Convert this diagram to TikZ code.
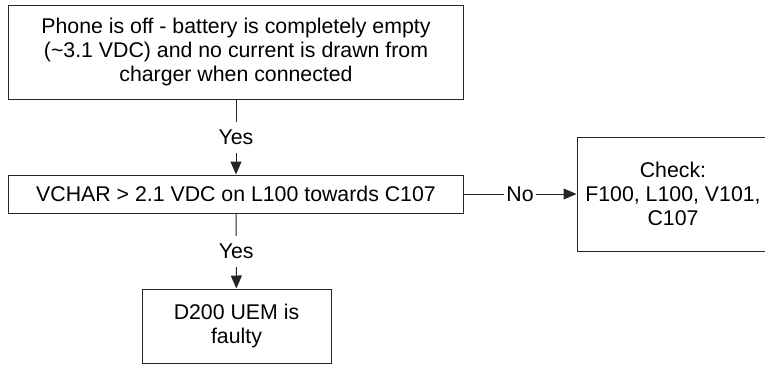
\documentclass[tikz,border=0pt]{standalone}
\usepackage{fontspec}
\setmainfont{Liberation Sans}
\usetikzlibrary{arrows.meta}

\begin{document}
\begin{tikzpicture}[x=1bp,y=-1bp,
    box/.style={draw=black!85,line width=1bp,inner sep=0pt,align=center},
    lbl/.style={fill=white,inner xsep=2.5bp,inner ysep=7.5bp,text height=15bp,text depth=1bp},
    arr/.style={draw=black!85,line width=1bp,-{Triangle[length=13bp,width=11bp]}}]
      \fontsize{21.3bp}{24bp}\selectfont
      \useasboundingbox (0,0) rectangle (765,364);
      \clip (0,0) rectangle (765,364);
      % Boxes
      \node[box,minimum width=454bp,minimum height=94bp] (empty) at (236,52)
        {Phone is off - battery is completely empty\\(\textasciitilde3.1 VDC) and no current is drawn from\\charger when connected};
      \node[box,minimum width=454bp,minimum height=38bp] (vchar) at (236,194)
        {VCHAR > 2.1 VDC on L100 towards C107};
      \node[box,minimum width=192bp,minimum height=114bp] (check) at (673,194)
        {Check:\\F100, L100, V101,\\C107};
      \node[box,minimum width=189bp,minimum height=74bp] (uem) at (236.5,326)
        {D200 UEM is\\faulty};
      % Connectors
      \draw[arr] (empty) -- node[lbl] {Yes} (vchar);
      \draw[arr] (vchar) -- node[lbl] {No} (check);
      \draw[arr] (vchar) -- node[lbl] {Yes} (uem);
\end{tikzpicture}
\end{document}
